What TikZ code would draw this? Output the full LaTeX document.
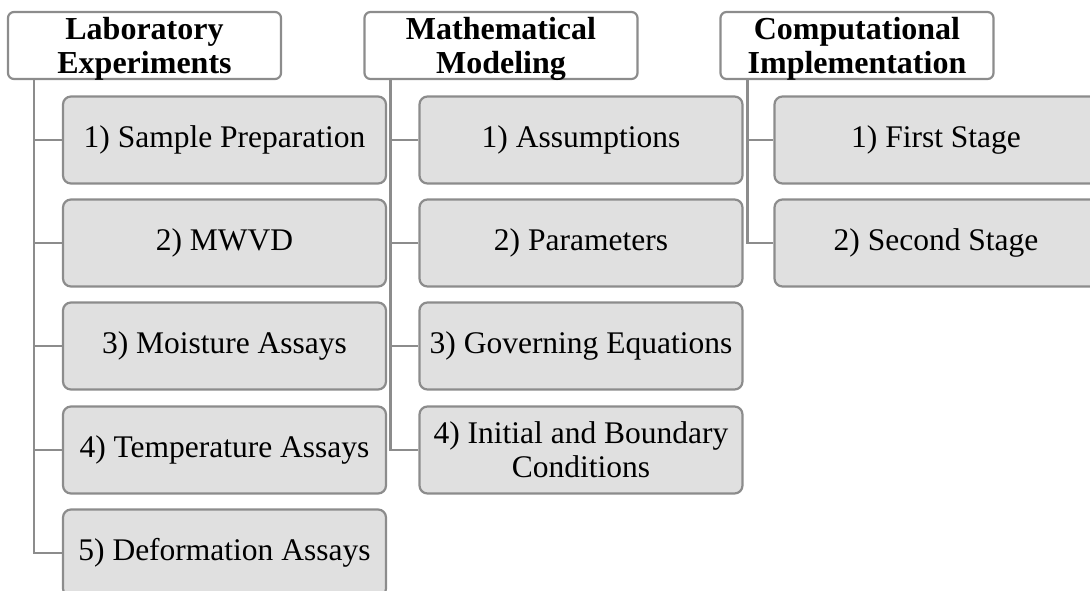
\documentclass[tikz,border=0pt]{standalone}
\usepackage{fontspec}
\setmainfont{Liberation Serif}
\usetikzlibrary{positioning}
\definecolor{edgeGray}{HTML}{8C8C8C}
\definecolor{boxGray}{HTML}{E0E0E0}

\begin{document}
\begin{tikzpicture}[x=1pt,y=-1pt]

            \tikzstyle{headBox} = [draw=edgeGray, line width=2.2pt, fill=white, rounded corners=6pt,
                                   minimum width=273pt, minimum height=67pt, inner sep=0pt, text depth=0pt,
                                   align=center, font=\fontsize{32}{34}\selectfont\bfseries];
            \tikzstyle{stepBox} = [draw=edgeGray, line width=2.2pt, fill=boxGray, rounded corners=8pt,
                                   minimum width=323pt, minimum height=87pt, inner sep=0pt,
                                   align=center, font=\fontsize{31.5}{34}\selectfont];
            \tikzstyle{branch} = [draw=edgeGray, line width=2.2pt];

            \clip (0,0) rectangle (1090,590);
            \useasboundingbox (0,0) rectangle (1090,590);

            % headers
            \node[headBox] (lab)  at (144.5,45.5) {Laboratory\\Experiments};
            \node[headBox] (math) at (501,45.5)   {Mathematical\\Modeling};
            \node[headBox] (comp) at (857,45.5)   {Computational\\Implementation};

            % laboratory steps
            \node[stepBox] (lab1) at (224.5,140) {1) Sample Preparation};
            \node[stepBox] (lab2) at (224.5,243) {2) MWVD};
            \node[stepBox] (lab3) at (224.5,346) {3) Moisture Assays};
            \node[stepBox] (lab4) at (224.5,450) {4) Temperature Assays};
            \node[stepBox] (lab5) at (224.5,553) {5) Deformation Assays};

            % modeling steps
            \node[stepBox] (math1) at (581,140) {1) Assumptions};
            \node[stepBox] (math2) at (581,243) {2) Parameters};
            \node[stepBox] (math3) at (581,346) {3) Governing Equations};
            \node[stepBox] (math4) at (581,450) {4) Initial and Boundary\\Conditions};

            % implementation steps
            \node[stepBox] (comp1) at (936,140) {1) First Stage};
            \node[stepBox] (comp2) at (936,243) {2) Second Stage};

            \coordinate (labLine)  at ([xshift=27pt]lab.south west);
            \coordinate (mathLine) at ([xshift=27pt]math.south west);
            \coordinate (compLine) at ([xshift=28pt]comp.south west);

            \foreach \i in {1,...,5}
              \draw[branch] (labLine) |- (lab\i.west);
            \foreach \i in {1,...,4}
              \draw[branch] (mathLine) |- (math\i.west);
            \foreach \i in {1,2}
              \draw[branch] (compLine) |- (comp\i.west);
          \end{tikzpicture}
\end{document}
